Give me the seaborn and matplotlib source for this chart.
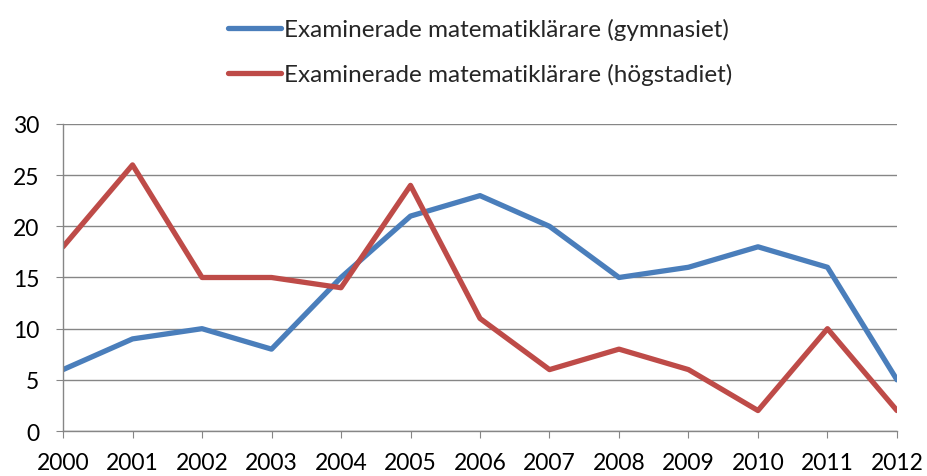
import pandas as pd
import seaborn as sns
import matplotlib.pyplot as plt

years = list(range(2000, 2013))
gymnasiet = [6, 9, 10, 8, 15, 21, 23, 20, 15, 16, 18, 16, 5]
hogstadiet = [18, 26, 15, 15, 14, 24, 11, 6, 8, 6, 2, 10, 2]
labels = ["Examinerade matematiklärare (gymnasiet)",
          "Examinerade matematiklärare (högstadiet)"]
colors = ["#4A7EBB", "#BE4B48"]

df = pd.concat([
    pd.DataFrame({"year": years, "value": gymnasiet, "serie": labels[0]}),
    pd.DataFrame({"year": years, "value": hogstadiet, "serie": labels[1]}),
])

sns.set_style("white")
plt.rcParams['font.family'] = ['Lato', 'DejaVu Sans']

fig = plt.figure(figsize=(9.27, 4.77), dpi=100)
ax = fig.add_axes([0.068, 0.0943, 0.8996, 0.6437])

sns.lineplot(data=df, x="year", y="value", hue="serie", palette=colors,
             linewidth=3.8, ax=ax, legend=True)

ax.set_xlim(2000, 2012)
ax.set_ylim(0, 30)
ax.set_xticks(years)
ax.set_yticks(range(0, 31, 5))
ax.set_xlabel("")
ax.set_ylabel("")
ax.yaxis.grid(True, color="#868686", linewidth=1)
ax.xaxis.grid(False)
for s in ["top", "right"]:
    ax.spines[s].set_visible(False)
for s in ["left", "bottom"]:
    ax.spines[s].set_color("#868686")
    ax.spines[s].set_linewidth(1)
ax.tick_params(axis="both", length=5, color="#868686", labelsize=16.5,
               labelcolor="black", bottom=True, left=True)
ax.tick_params(axis="x", pad=10)
ax.tick_params(axis="y", pad=12)

h, l = ax.get_legend_handles_labels()
for line in h:
    line.set_linewidth(3.8)
ax.legend(h, l, loc="upper center", bbox_to_anchor=(0.5, 1.384),
          frameon=False, fontsize=17.5, handlelength=2.2, handletextpad=0.1,
          labelspacing=0.95, borderpad=0)

fig.savefig("out.png", dpi=100)
